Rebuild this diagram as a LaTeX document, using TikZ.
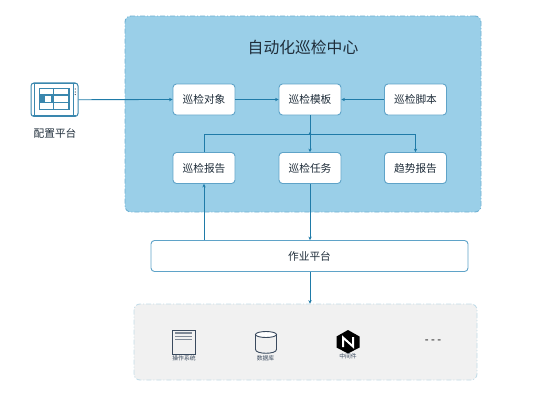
\documentclass[tikz,border=0pt]{standalone}
\usepackage{fontspec}
\setmainfont{Noto Sans CJK SC}
\usetikzlibrary{arrows.meta}
\definecolor{panelblue}{HTML}{9ACFE8}
\definecolor{paneledge}{HTML}{6FB1D3}
\definecolor{boxedge}{HTML}{5FA3C8}
\definecolor{linkblue}{HTML}{1F7BA8}
\definecolor{greypanel}{HTML}{F1F1F1}
\definecolor{greyedge}{HTML}{C3DCE8}
\definecolor{inktext}{HTML}{1F2D3A}
\definecolor{iconblue}{HTML}{3A87AE}
\definecolor{icondark}{HTML}{3A4A5E}
\tikzset{
  x=1pt,y=-1pt,
  modbox/.style={draw=boxedge,line width=0.9pt,fill=white,rounded corners=3.5pt,
    minimum width=62pt,minimum height=31pt,inner sep=0pt,font=\fontsize{10.7}{12}\selectfont,text=inktext},
  link/.style={draw=linkblue,line width=0.85pt},
  flow/.style={link,-{Stealth[length=3.5pt,width=3.4pt]}},
  dashpanel/.style={rounded corners=6pt,dash pattern=on 5pt off 2pt on 1pt off 2pt},
  smalltext/.style={font=\fontsize{5.8}{7}\selectfont,text=icondark,inner sep=0pt},
}
\begin{document}
\begin{tikzpicture}
\useasboundingbox (0,0) rectangle (541,402);
% panels
\node[dashpanel,draw=paneledge,fill=panelblue,line width=0.9pt,minimum width=356pt,minimum height=196pt,inner sep=0pt] (center) at (303,114) {};
\node[font=\fontsize{15.8}{18}\selectfont,text=inktext,inner sep=0pt] (title) at (303,47.5) {自动化巡检中心};
\node[dashpanel,draw=greyedge,fill=greypanel,line width=0.9pt,minimum width=343pt,minimum height=76pt,inner sep=0pt] (res) at (305.5,342) {};
% boxes
\node[modbox] (obj) at (204,99.5) {巡检对象};
\node[modbox] (tpl) at (310,99.5) {巡检模板};
\node[modbox] (scr) at (415.5,99.5) {巡检脚本};
\node[modbox] (rep) at (204,168) {巡检报告};
\node[modbox] (task) at (310,168) {巡检任务};
\node[modbox] (trend) at (415.5,168) {趋势报告};
\node[modbox,minimum width=317pt] (job) at (309.5,256) {作业平台};
% config icon
\node[inner sep=0pt,minimum width=47pt,minimum height=33.5pt,draw=iconblue,line width=1pt,rounded corners=3pt,fill=white] (cfg) at (54.5,99.7) {};
\draw[iconblue,line width=0.8pt] (34,84) -- (34,115.5) (73,84) -- (73,115.5);
\draw[iconblue,line width=1.4pt] (33,83.7) -- (76,83.7) (33,115.7) -- (76,115.7);
\draw[iconblue,line width=1.4pt,fill=white] (39.5,88.5) rectangle (69,109.5);
\draw[iconblue,line width=1.4pt] (39.5,95) -- (69,95) (39.5,102.5) -- (69,102.5) (53.5,88.5) -- (53.5,109.5);
\fill[iconblue] (39.5,95) rectangle (45,102.5);
\fill[iconblue] (51,95) rectangle (54,102.5);
\foreach \yy in {89,92,94.5}{\fill[icondark] (75.3,\yy) circle (0.65pt);}
\node[font=\fontsize{10.7}{12}\selectfont,text=inktext,inner sep=0pt] (cfglabel) at (55,133) {配置平台};
% connectors
\coordinate (hub) at (310,134);
\draw[flow] (cfg.east) -- (obj.west);
\draw[flow] (obj.east) -- (tpl.west);
\draw[flow] (scr.west) -- (tpl.east);
\draw[flow] (tpl.south) -- (task.north);
\draw[link] (rep.north) |- (hub);
\draw[flow] (hub) -| (trend.north);
\fill[linkblue] (hub) ++(0,-0.6) circle (1.2pt);
\draw[flow] (job.north -| rep) -- (rep.south);
\draw[flow] (task.south) -- (job.north -| task);
\draw[flow] (job.south -| task) -- (res.north -| task);
% OS icon
\node[inner sep=0pt,minimum width=23pt,minimum height=24pt,draw=icondark,line width=1pt] (os) at (183.5,342) {};
\draw[icondark!65,line width=1.2pt] (175,333) -- (192,333) (175,336.3) -- (192,336.3) (175,339.6) -- (192,339.6);
\node[smalltext] (oslabel) at (184,358) {操作系统};
% DB icon
\coordinate (dbc) at (266,342);
\draw[icondark,line width=0.9pt] (255.5,334.5) -- (255.5,349.5) .. controls (255.5,354.5) and (276.5,354.5) .. (276.5,349.5) -- (276.5,334.5);
\draw[icondark,line width=0.9pt,fill=white] (dbc)++(0,-7.5) ellipse (10.5pt and 3pt);
\node[smalltext] (dblabel) at (265.5,358) {数据库};
% nginx icon
\fill[black] (348,330) -- (359.5,336.5) -- (359.5,347.5) -- (348,353.5) -- (336.5,347.5) -- (336.5,336.5) -- cycle;
\draw[white,line width=2pt] (343,347) -- (343,337.5) -- (353,346.5) -- (353,337);
\node[smalltext] (mwlabel) at (348,356.5) {中间件};
\node[font=\fontsize{11}{12}\selectfont,text=black,inner sep=0pt] (more) at (433,342) {- - -};
\end{tikzpicture}
\end{document}
